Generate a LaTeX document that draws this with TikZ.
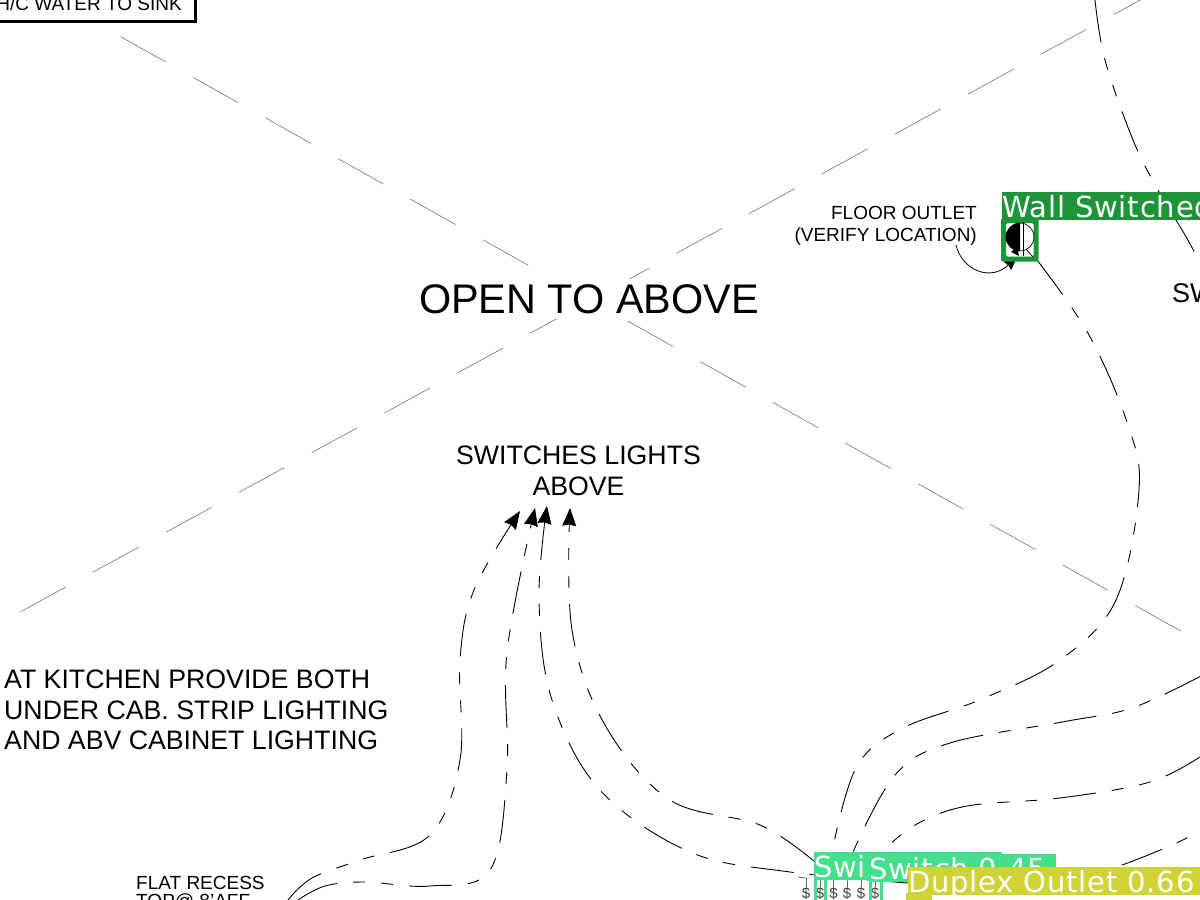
\documentclass[tikz,border=0pt]{standalone}
\usepackage{fontspec}
\setmainfont{Liberation Sans}
\newfontfamily\labelfont[LetterSpace=3]{DejaVu Sans}
\usetikzlibrary{arrows.meta}
\tikzset{
  greyline/.style={draw=black!55,line width=0.6pt,dash pattern=on 52pt off 31.1pt},
  wire/.style={draw=black,line width=0.9pt,dash pattern=on 43pt off 16pt on 12pt off 16pt on 12pt off 16pt},
  tip/.style={-{Stealth[inset=1.5pt,length=18pt,width=14pt]}},
  note/.style={inner sep=0pt,align=center,text=black},
  lab/.style={inner sep=0pt,outer sep=0pt,anchor=north west,minimum height=28pt,text=white,font=\labelfont\fontsize{29}{28}\selectfont,text depth=0pt},
  switchbar/.style={draw=black!60,line width=0.8pt},
  swsym/.style={inner sep=0pt,font=\fontsize{15}{15}\selectfont,text=black!75}
}
\definecolor{wallgreen}{HTML}{1C9536}
\definecolor{switchgreen}{HTML}{42DF8D}
\definecolor{dupyellow}{HTML}{CFD336}
\begin{document}
\begin{tikzpicture}[x=1pt,y=-1pt]
\useasboundingbox (0,0) rectangle (1200,900);
\clip (0,0) rectangle (1200,900);
\fill[white] (0,0) rectangle (1200,900);

% crossed open-to-above lines
\coordinate (xa) at (20,612);
\coordinate (xb) at (1142,-1);
\coordinate (xc) at (48,-4);
\coordinate (xd) at (1186,634);
\draw[greyline] (xa) -- (xb);
\draw[greyline] (xc) -- (xd);

% texts
\node[note,fill=white,inner xsep=4pt,inner ysep=5pt,font=\fontsize{41.4}{46}\selectfont] (open) at (589,299) {OPEN TO ABOVE};
\node[note,font=\fontsize{26.7}{31}\selectfont] (sw) at (578.5,471) {SWITCHES LIGHTS\\ABOVE};
\node[note,align=left,anchor=north west,font=\fontsize{26.7}{30.5}\selectfont] (kit) at (4,670) {AT KITCHEN PROVIDE BOTH\\UNDER CAB. STRIP LIGHTING\\AND ABV CABINET LIGHTING};
\node[note,align=right,anchor=north east,font=\fontsize{19}{22}\selectfont] (floor) at (977,206) {FLOOR OUTLET\\(VERIFY LOCATION)};
\node[note,anchor=west,font=\fontsize{19}{22}\selectfont] (flat) at (136,883) {FLAT RECESS};
\node[note,anchor=north west,font=\fontsize{19}{22}\selectfont] (top) at (136,894) {TOP@ 8'AFF};
\node[note,anchor=west,font=\fontsize{27}{30}\selectfont] (swr) at (1172,293) {SW};

% top-left box
\node[draw=black,line width=3pt,fill=white,inner sep=0pt,minimum width=230pt,minimum height=44pt,anchor=south east] (water) at (196.5,22.5) {};
\node[note,anchor=east,font=\fontsize{19}{22}\selectfont] (watert) at (182,4) {H/C WATER TO SINK};

% free wire ends
\coordinate (r0) at (1095,0);
\coordinate (r1) at (1203,268);
\coordinate (o0) at (1037,260);
\coordinate (e2) at (1203,675);
\coordinate (e3) at (1203,755);
\coordinate (e4) at (1203,830);
\coordinate (b1) at (832,852);
\coordinate (b2) at (853,852);
\coordinate (b3) at (882,852);
\coordinate (b4) at (1122,865);
\coordinate (a1) at (570,508);
\coordinate (a2) at (547,506);
\coordinate (a3) at (535,508);
\coordinate (a4) at (520,511);

% wires on the right
\draw[wire] plot[smooth,tension=0.6] coordinates {(r0) (1105,60) (1133,140) (1158,190) (1185,235) (r1)};
\draw[wire] plot[smooth,tension=0.6] coordinates {(o0) (1089,335) (1128,425) (1139,490) (1116,600) (1060,660) (982,699) (901,729) (856,768) (b1)};
\draw[wire] plot[smooth,tension=0.6] coordinates {(e2) (1132,708) (1062,722) (950,743) (895,775) (b2)};
\draw[wire] plot[smooth,tension=0.6] coordinates {(e3) (1150,782) (1060,798) (967,806) (915,825) (b3)};
\draw[wire] (b4) .. controls (1150,855) and (1180,842) .. (e4);

% wires to the label
\draw[wire,tip] plot[smooth,tension=0.6] coordinates {(815,862) (760,825) (670,800) (605,725) (572,630) (a1)};
\draw[wire,tip] plot[smooth,tension=0.6] coordinates {(908,883) (790,872) (690,852) (600,790) (552,700) (539,600) (a2)};
\draw[wire,tip] plot[smooth,tension=0.6] coordinates {(298,900) (325,886) (365,882) (430,886) (490,870) (507,770) (507,652) (a3)};
\draw[wire,tip] plot[smooth,tension=0.6] coordinates {(288,900) (312,878) (360,860) (430,835) (460,760) (460,660) (474,590) (a4)};

% floor outlet leader (runs under the green box)
\coordinate (ft) at (1017,257);
\draw[black,line width=0.8pt,-{Stealth[inset=1pt,length=13pt,width=11pt]}] (956,245) .. controls (962,270) and (990,282) .. (ft);

% wall switched label box
\fill[wallgreen,even odd rule,rounded corners=1.5pt] (1001,218) rectangle (1038.5,261.5) (1006,223) rectangle (1033.5,256.5);
\node[lab,fill=wallgreen,minimum width=200pt,anchor=north west,text width=260pt,align=left] (wall) at (1002,192) {Wall Switched};

% floor outlet symbol
\fill[black] (1020,223) arc[start angle=-90,end angle=-270,radius=14] -- cycle;
\draw[black,line width=0.7pt] (1020,237) circle[radius=14];
\draw[black,line width=0.7pt] (1023,222) -- (1023,256);
\fill[black] (1011,252) -- (1017,247) -- (1019,256) -- cycle;
\draw[black,line width=0.7pt] (1026,249) -- (1033,257);

% switch symbols
\foreach \n/\x in {s1/806,s2/820,s3/833.5,s4/847,s5/861,s6/875}{
  \node[swsym] (\n) at (\x,893) {\$};
  \coordinate (\n t) at (\x,878);
  \draw[switchbar] (\n t) -- (\n);
}
\draw[switchbar] (798,877) -- (s1t);

% switch label boxes
\draw[switchgreen,line width=3pt] (815,874) -- (815,903) (825,874) -- (825,903);
\draw[switchgreen,line width=3pt] (870,874) -- (870,903) (881,874) -- (881,903);
\node[lab,fill=switchgreen,minimum width=188pt,text width=188pt,align=left] (swa) at (814,852) {Swi};
\node[lab,fill=switchgreen,minimum width=187pt,text width=187pt,align=left] (swb) at (869,854) {Switch 0.45};
\node[lab,fill=dupyellow,minimum width=300pt,text width=300pt,align=left] (dup) at (908,867) {Duplex Outlet 0.66};
\fill[dupyellow] (906,893) rectangle (932,900);
\end{tikzpicture}
\end{document}
